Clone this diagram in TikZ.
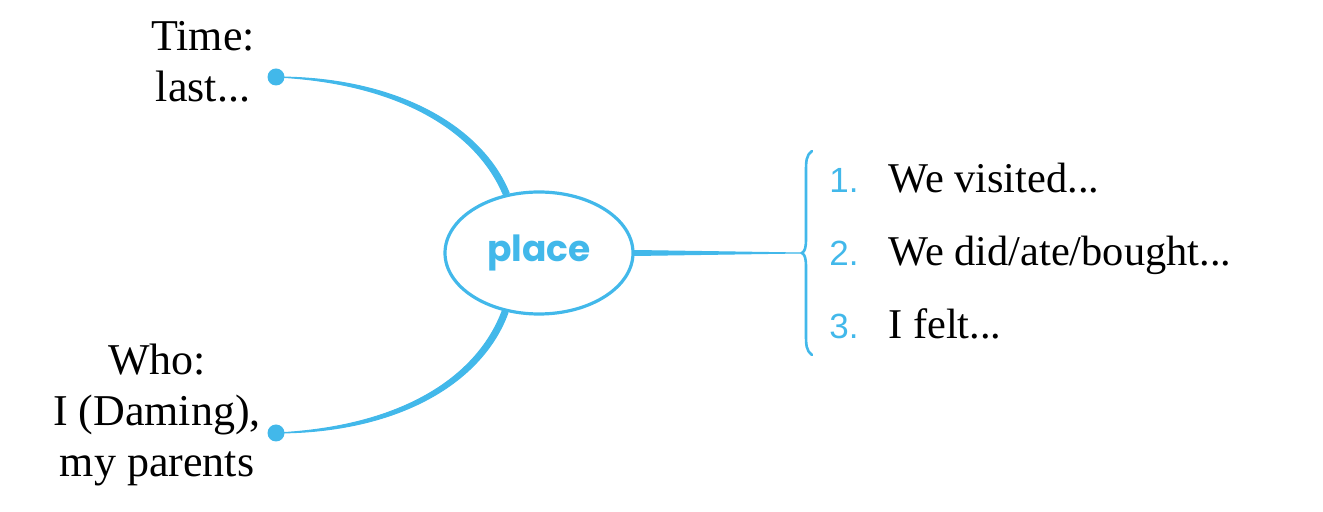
\documentclass[tikz,border=0pt]{standalone}
\usepackage{fontspec}
\setmainfont{Liberation Serif}
\newfontfamily\placefont{Poppins}
\newfontfamily\numfont{Liberation Sans}
\usetikzlibrary{shapes.geometric}
\definecolor{mapblue}{RGB}{66,184,234}
\newcommand\trail{...}
\tikzset{
  link/.style={mapblue, fill=mapblue, line width=0.5pt, line join=round},
  dot/.style={circle, fill=mapblue, inner sep=0pt, minimum size=8.5pt},
  hub/.style={ellipse, draw=mapblue, text=mapblue, line width=1.6pt, minimum width=94pt,
    minimum height=61pt, inner sep=0pt},
  wordbox/.style={align=center, inner sep=0pt, font=\fontsize{22}{25.5}\selectfont},
  numtext/.style={inner sep=0pt, mapblue, font=\numfont\fontsize{17.5}{20}\selectfont},
  itemtext/.style={inner sep=0pt, font=\fontsize{21.2}{24}\selectfont},
  brace/.style={mapblue, line width=1.3pt, line cap=round}
}
\begin{document}
\begin{tikzpicture}[x=0.5pt, y=-0.5pt]
        % Define dimensions
        \def\rowgap{73}
        \def\rowtop{120}
        \useasboundingbox (0,0) rectangle (1323,512);
        % Centre of the map
        \node[hub] (place) at (539,253)
            {\placefont\bfseries\fontsize{18}{18}\selectfont place};
        % Dots and texts on the left
        \node[dot] (tdot) at (276,77) {};
        \node[dot] (bdot) at (276,433) {};
        \node[wordbox] (time) at (203,62) {Time:\\last...};
        \node[wordbox] (who) at (157,415) {Who:\\I (Daming),\\my parents};
        % Curves from the dots to the centre (thin at the dot, thick at the centre)
        \filldraw[link] (tdot.center) .. controls (400,83) and (477,131.5) .. ([shift={(-2.8,1.2)}]place.119)
            -- ([shift={(2.8,-1.2)}]place.119) .. controls (483,128.5) and (400,77) .. (tdot.center) -- cycle;
        \filldraw[link] (bdot.center) .. controls (400,427) and (477,378.5) .. ([shift={(-2.8,-1.2)}]place.240)
            -- ([shift={(2.8,1.2)}]place.240) .. controls (483,381.5) and (400,433) .. (bdot.center) -- cycle;
        % Line to the brace
        \coordinate (tip) at (802,253);
        \coordinate (btop) at (812,151);
        \coordinate (bbot) at (812,355);
        \filldraw[link] ([shift={(0,-2.5)}]place.east) -- ([shift={(0,2.5)}]place.east) -- (tip) -- cycle;
        \draw[brace] (btop) .. controls (806,155) and (806,162) .. (806,172)
            -- (806,238) .. controls (806,248) and (805,251) .. (tip)
            .. controls (805,255) and (806,258) .. (806,268)
            -- (806,334) .. controls (806,344) and (806,351) .. (bbot);
        % Numbered items on the right
        \foreach \n/\txt [count=\i] in {1/{We visited\trail}, 2/{We did/ate/bought\trail}, 3/{I felt\trail}}{
            \node[numtext, anchor=base west] (num\i) at (829,\rowtop+\i*\rowgap) {\n.};
            \node[itemtext, anchor=base west] (item\i) at (888,\rowtop+\i*\rowgap) {\txt};
        }
    \end{tikzpicture}
\end{document}
